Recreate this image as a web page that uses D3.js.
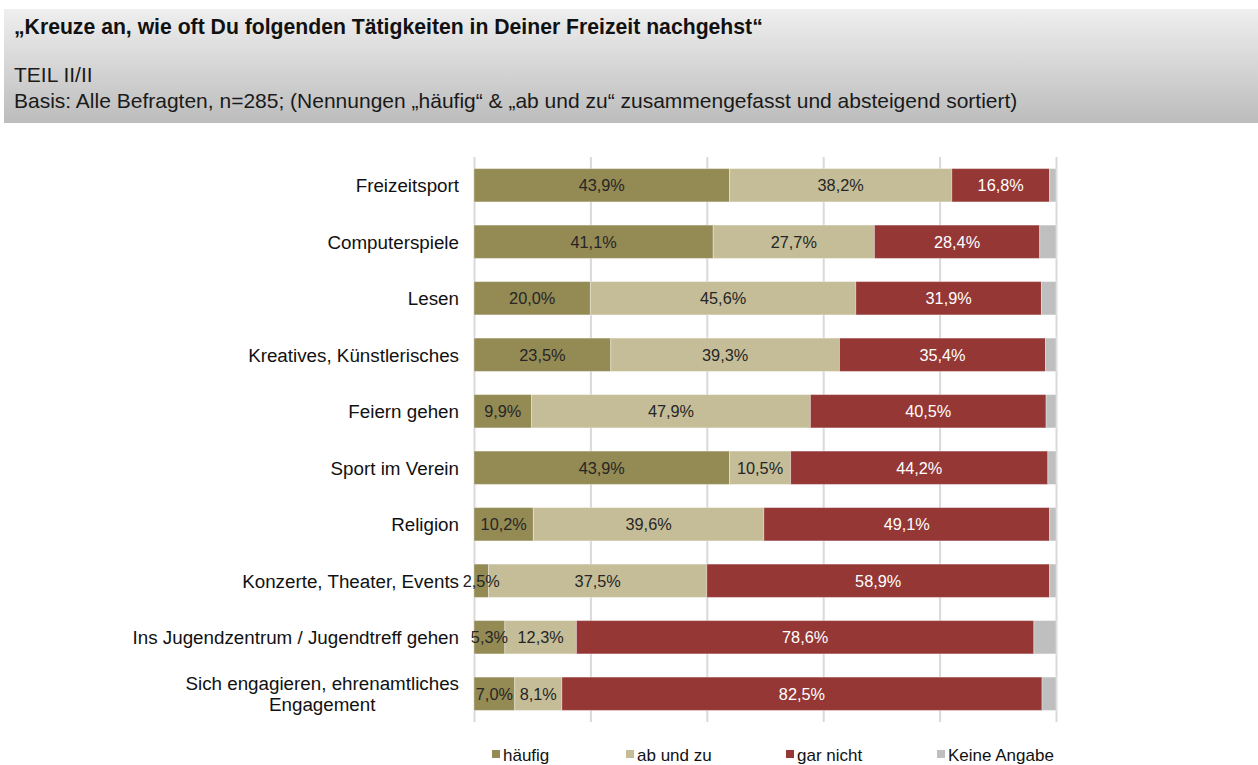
<!DOCTYPE html>
<html>
<head>
<meta charset="utf-8">
<script src="https://cdn.jsdelivr.net/npm/d3@7"></script>
<style>
    body { margin: 0; background: #fff; }
    svg { display: block; font-family: "Liberation Sans", Arial, sans-serif; }
</style>
</head>
<body>
<svg id="chart" width="1258" height="765"></svg>
<script>
// data (percent)
const categories = [
    'Freizeitsport',
    'Computerspiele',
    'Lesen',
    'Kreatives, Künstlerisches',
    'Feiern gehen',
    'Sport im Verein',
    'Religion',
    'Konzerte, Theater, Events',
    'Ins Jugendzentrum / Jugendtreff gehen',
    'Sich engagieren, ehrenamtliches|Engagement'
];
const haeufig     = [43.9, 41.1, 20.0, 23.5, 9.9, 43.9, 10.2, 2.5, 5.3, 7.0];
const abUndZu     = [38.2, 27.7, 45.6, 39.3, 47.9, 10.5, 39.6, 37.5, 12.3, 8.1];
const garNicht    = [16.8, 28.4, 31.9, 35.4, 40.5, 44.2, 49.1, 58.9, 78.6, 82.5];
const keineAngabe = [1.1, 2.8, 2.5, 1.8, 1.7, 1.4, 1.1, 1.1, 3.8, 2.4];
const seriesNames = ['häufig', 'ab und zu', 'gar nicht', 'Keine Angabe'];
const gridTicks = [0, 20, 40, 60, 80, 100];

const colors = {
    haeufig: '#948a54',
    abUndZu: '#c4bd97',
    garNicht: '#953735',
    keine: '#bfbfbf'
};
const seriesColors = [colors.haeufig, colors.abUndZu, colors.garNicht, colors.keine];
const labelColors = ['#262626', '#262626', '#ffffff', null];

const svg = d3.select('#chart');

// header band
const defs = svg.append('defs');
const grad = defs.append('linearGradient')
    .attr('id', 'headGrad')
    .attr('x1', 0).attr('y1', 0).attr('x2', 0).attr('y2', 1);
grad.append('stop').attr('offset', '0%').attr('stop-color', '#efefef');
grad.append('stop').attr('offset', '100%').attr('stop-color', '#bcbcbc');

svg.append('rect')
    .attr('x', 4).attr('y', 9)
    .attr('width', 1254).attr('height', 114)
    .attr('fill', 'url(#headGrad)');

svg.append('text')
    .attr('x', 14).attr('y', 34)
    .style('font-size', '21.2px')
    .style('font-weight', 'bold')
    .attr('fill', '#111')
    .text('„Kreuze an, wie oft Du folgenden Tätigkeiten in Deiner Freizeit nachgehst“');

svg.append('text')
    .attr('x', 14).attr('y', 82)
    .style('font-size', '21px')
    .attr('fill', '#1a1a1a')
    .text('TEIL II/II');

svg.append('text')
    .attr('x', 14).attr('y', 108)
    .style('font-size', '21px')
    .attr('fill', '#1a1a1a')
    .text('Basis: Alle Befragten, n=285; (Nennungen „häufig“ & „ab und zu“ zusammengefasst und absteigend sortiert)');

// plot
const plot = {left: 474, right: 1056, top: 157, bottom: 722};

const rows = categories.map((c, i) => ({
    cat: c,
    s0: haeufig[i],
    s1: abUndZu[i],
    s2: garNicht[i],
    s3: keineAngabe[i]
}));

const xScale = d3.scaleLinear()
    .domain([0, 100])
    .range([plot.left, plot.right]);

const yScale = d3.scaleBand()
    .domain(categories)
    .range([plot.top, plot.bottom])
    .paddingInner(0.41)
    .paddingOuter(0.205);

// gridlines
const gridG = svg.append('g')
    .attr('transform', `translate(0, ${plot.bottom})`)
    .call(d3.axisBottom(xScale)
        .tickValues(gridTicks)
        .tickSize(-(plot.bottom - plot.top))
        .tickFormat(''));
gridG.select('.domain').remove();
gridG.selectAll('.tick line')
    .attr('stroke', '#d9d9d9')
    .attr('stroke-width', 2);

const stack = d3.stack().keys(['s0', 's1', 's2', 's3']);
const stacked = stack(rows);

const barG = svg.append('g');

stacked.forEach(function (layer, k) {
    barG.selectAll(null)
        .data(layer)
        .enter()
        .append('rect')
        .attr('x', d => xScale(d[0]))
        .attr('y', d => yScale(d.data.cat))
        .attr('width', d => xScale(d[1]) - xScale(d[0]))
        .attr('height', yScale.bandwidth())
        .attr('fill', seriesColors[k])
        .attr('stroke', '#ffffff')
        .attr('stroke-opacity', 0.35)
        .attr('stroke-width', 1);
});

// value labels (not for "Keine Angabe")
const fmt = v => v.toFixed(1).replace('.', ',') + '%';
stacked.slice(0, 3).forEach(function (layer, k) {
    barG.selectAll(null)
        .data(layer)
        .enter()
        .append('text')
        .attr('x', d => (xScale(d[0]) + xScale(d[1])) / 2)
        .attr('y', d => yScale(d.data.cat) + yScale.bandwidth() / 2)
        .attr('dy', '0.36em')
        .attr('text-anchor', 'middle')
        .style('font-size', '16.3px')
        .attr('fill', labelColors[k])
        .text(d => fmt(d[1] - d[0]));
});

// category labels
const catG = svg.append('g');
categories.forEach(function (c) {
    const lines = c.split('|');
    const cy = yScale(c) + yScale.bandwidth() / 2;
    const lineH = 21;
    const t = catG.append('text')
        .style('font-size', '18.8px')
        .attr('fill', '#111');
    if (lines.length === 1) {
        t.attr('x', 459).attr('y', cy).attr('dy', '0.36em')
            .attr('text-anchor', 'end')
            .text(c);
    } else {
        // multi-line: centre the lines on the widest one, block right-aligned
        t.attr('text-anchor', 'middle');
        lines.forEach(function (ln, j) {
            t.append('tspan')
                .attr('x', 0)
                .attr('y', cy + (j - (lines.length - 1) / 2) * lineH)
                .attr('dy', '0.36em')
                .text(ln);
        });
        const w = t.node().getBBox().width;
        t.selectAll('tspan').attr('x', 459 - w / 2);
    }
});

// legend
const legendX = [492, 626, 786, 937];
const legendG = svg.append('g').attr('transform', 'translate(0, 755)');
seriesNames.forEach(function (name, i) {
    legendG.append('rect')
        .attr('x', legendX[i])
        .attr('y', -5)
        .attr('width', 8)
        .attr('height', 8)
        .attr('fill', seriesColors[i]);
    legendG.append('text')
        .attr('x', legendX[i] + 11)
        .attr('y', 0)
        .attr('dy', '0.36em')
        .style('font-size', '17px')
        .attr('fill', '#111')
        .text(name);
});
</script>
</body>
</html>
